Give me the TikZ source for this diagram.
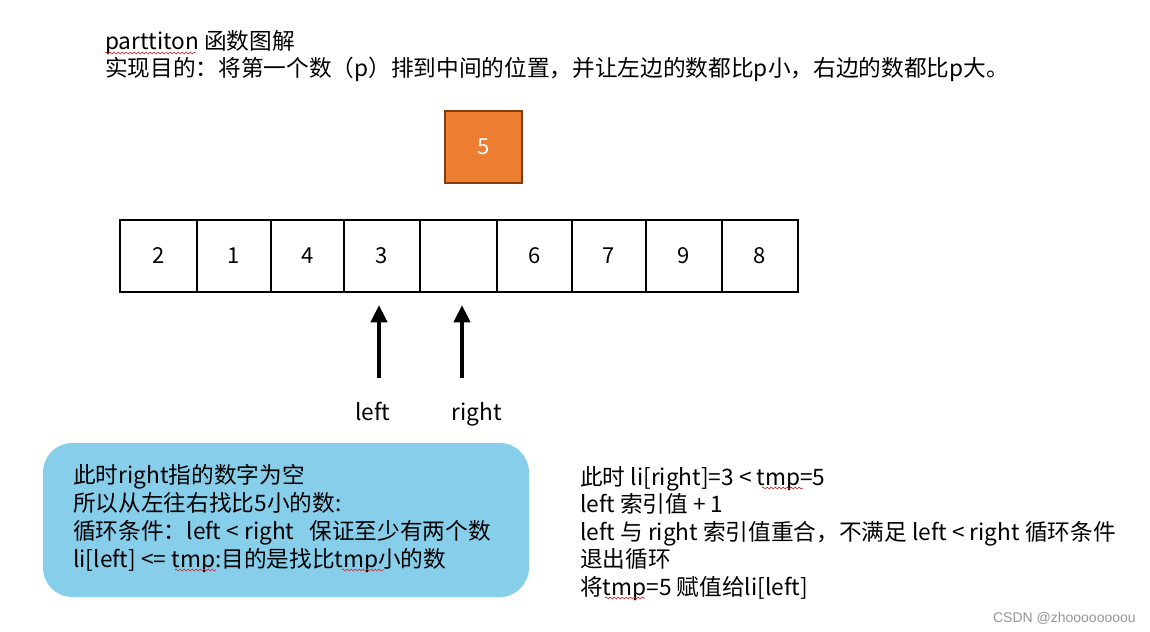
\documentclass[tikz,border=0pt]{standalone}
\usepackage{fontspec}
\setmainfont{Noto Sans CJK SC}
\newfontfamily\wmfont{Liberation Sans}
\usetikzlibrary{arrows.meta,decorations.pathmorphing}
\definecolor{orangefill}{RGB}{237,125,49}
\definecolor{orangeedge}{RGB}{132,60,12}
\definecolor{skyfill}{RGB}{135,206,235}
\definecolor{wmgray}{RGB}{150,150,150}
\definecolor{spellred}{RGB}{210,40,40}
\begin{document}
\begin{tikzpicture}[x=0.75pt,y=-0.75pt,
  txt/.style={anchor=base west, inner sep=0pt, font=\fontsize{17}{20}\selectfont},
  cell/.style={draw, line width=1.5pt, inner sep=0pt, minimum height=54pt, font=\fontsize{16.5}{19}\selectfont},
  pointer/.style={line width=3pt, -{Triangle[width=12pt,length=13pt]}},
  spell/.style={spellred, line width=0.5pt, decorate, decoration={snake, amplitude=0.7pt, segment length=3pt}}]
\useasboundingbox (0,0) rectangle (1150,632);
\fill[white] (0,0) rectangle (1150,632);

% title
\node[txt] (t1) at (105,49) {parttiton 函数图解};
\node[txt] (t2) at (105,76) {实现目的：将第一个数（p）排到中间的位置，并让左边的数都比p小，右边的数都比p大。};
\draw[spell] (105,53) -- (196,53);

% pivot
\node[draw=orangeedge, fill=orangefill, line width=1.5pt, minimum width=57.75pt, minimum height=54pt,
      text=white, font=\fontsize{16.5}{19}\selectfont] (p) at (483.5,147) {5};

% array cells
\foreach \i/\l/\r/\v in {1/120/197/2, 2/197/271/1, 3/271/344/4, 4/344/420/3, 5/420/497/, 6/497/572/6, 7/572/646/7, 8/646/722/9, 9/722/798/8}
  \node[cell, minimum width={(\r-\l)*0.75pt}] (c\i) at ({(\l+\r)/2},256) {\v};

% pointers
\coordinate (la0) at (379,378);
\coordinate (la1) at (379,305);
\coordinate (ra0) at (462,378);
\coordinate (ra1) at (462,305);
\draw[pointer] (la0) -- (la1);
\draw[pointer] (ra0) -- (ra1);
\node[anchor=base, inner sep=0pt, font=\fontsize{17}{20}\selectfont] (lleft) at (373,420) {left};
\node[anchor=base, inner sep=0pt, font=\fontsize{17}{20}\selectfont] (lright) at (477,420) {right};

% blue note
\node[fill=skyfill, rounded corners=22pt, minimum width=364.5pt, minimum height=115.5pt, inner sep=0pt] (note) at (286,520) {};
\node[txt] (n1) at (73,483) {此时right指的数字为空};
\node[txt] (n2) at (73,511) {所以从左往右找比5小的数:};
\node[txt] (n3) at (73,539) {循环条件：left < right\ \ \ 保证至少有两个数};
\node[txt] (n4) at (73,567) {li[left] <= tmp:目的是找比tmp小的数};
\draw[spell] (175,570) -- (216,570);
\draw[spell] (342,570) -- (384,570);

% right explanation
\node[txt] (r1) at (580,485) {此时 li[right]=3 < tmp=5};
\node[txt] (r2) at (580,512) {left 索引值 + 1};
\node[txt] (r3) at (580,540) {left 与 right 索引值重合，不满足 left < right 循环条件};
\node[txt] (r4) at (580,567) {退出循环};
\node[txt] (r5) at (580,595) {将tmp=5 赋值给li[left]};
\draw[spell] (762,488) -- (803,488);
\draw[spell] (605,598) -- (645,598);

% watermark
\node[anchor=base east, inner sep=0pt, text=wmgray, font=\wmfont\fontsize{10.5}{12}\selectfont] (wm) at (1136,622) {CSDN @zhoooooooou};
\end{tikzpicture}
\end{document}
